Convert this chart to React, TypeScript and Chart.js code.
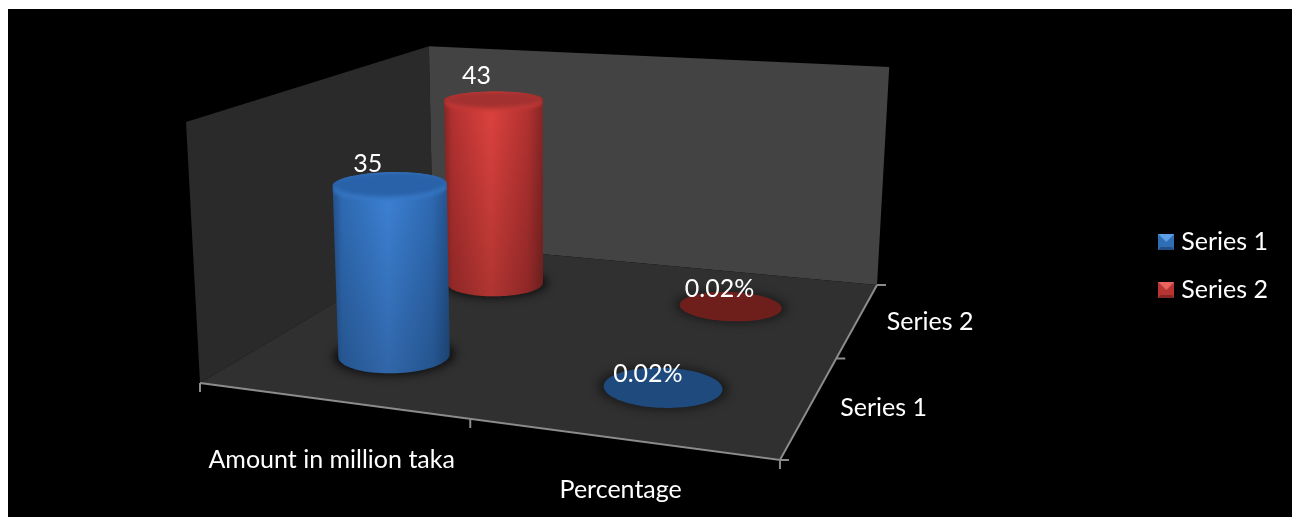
import { useEffect, useRef } from "react";
import { Chart, BarController, BarElement, CategoryScale, LinearScale, Legend } from "chart.js";

const categories = ["Amount in million taka", "Percentage"];
const seriesNames = ["Series 1", "Series 2"];
const series1Values = [35, 0.0002];
const series2Values = [43, 0.0002];
const series1Labels = ["35", "0.02%"];
const series2Labels = ["43", "0.02%"];

const FONT = "Lato, 'Open Sans', sans-serif";
const FONT_SIZE = 25;
const VALUE_MAX = 50.4;
const RADIUS = 0.1;

// Perspective coefficients for the plot box, in canvas pixels (origin at the canvas corner).
const ORIGIN_X = 8;
const ORIGIN_Y = 9;
const H = { a: 480.6, b: 377.7, c: 200, d: 18.4, e: -57.5, f: 383, g: -0.1274, h: 0.3341, k: -0.035, l: -20.5, m: -265.3, lean: 3.5 };

function project(u: number, v: number, t: number) {
  const w = 1 + H.g * u + H.h * v + H.k * t;
  return {
    x: (H.a * u + H.b * v + H.c + H.l * t) / w + H.lean * u * v * t - ORIGIN_X,
    y: (H.d * u + H.e * v + H.f + H.m * t) / w - ORIGIN_Y,
  };
}

type P = { x: number; y: number };

const PALETTE = [
  { edge: "#24528c", mid: "#2f6cb6", hi: "#3e83d8", lid: "#2962a8", lip: "#3a7ccb", flat: "#1f4a7e" },
  { edge: "#862726", mid: "#b53231", hi: "#e0433f", lid: "#a23130", lip: "#cc3c39", flat: "#6e1f1b" },
];

function circle(cu: number, cv: number, t: number, r = RADIUS): P[] {
  const pts: P[] = [];
  for (let i = 0; i < 96; i++) {
    const a = (i / 96) * Math.PI * 2;
    pts.push(project(cu + r * Math.cos(a), cv + r * Math.sin(a), t));
  }
  return pts;
}

function hull(points: P[]): P[] {
  const s = [...points].sort((p, q) => p.x - q.x || p.y - q.y);
  const cross = (o: P, p: P, q: P) => (p.x - o.x) * (q.y - o.y) - (p.y - o.y) * (q.x - o.x);
  const half = (list: P[]) => {
    const out: P[] = [];
    for (const p of list) {
      while (out.length > 1 && cross(out[out.length - 2], out[out.length - 1], p) <= 0) out.pop();
      out.push(p);
    }
    out.pop();
    return out;
  };
  return [...half(s), ...half([...s].reverse())];
}

function trace(ctx: CanvasRenderingContext2D, pts: P[]) {
  ctx.beginPath();
  pts.forEach((p, i) => (i ? ctx.lineTo(p.x, p.y) : ctx.moveTo(p.x, p.y)));
  ctx.closePath();
}

// Bar controller whose elements are painted as cylinders standing on the projected floor.
class CylinderController extends BarController {
  static id = "cylinder";
  draw() {
    const chart = this.chart;
    const ctx = chart.ctx;
    const { x, y, z } = chart.scales as any;
    const di = this.index;
    const pal = PALETTE[di];
    const values = chart.data.datasets[di].data as number[];
    const v = (z.bottom - z.getPixelForValue(di)) / z.height;
    values.forEach((val, i) => {
      const u = (x.getPixelForValue(i) - x.left) / x.width;
      const t = (y.bottom - y.getPixelForValue(val)) / y.height;
      const base = circle(u, v, 0);
      const top = circle(u, v, t);
      const flat = t < 0.005;

      ctx.save();
      ctx.filter = "blur(5px)";
      ctx.fillStyle = flat ? "rgba(0,0,0,0.45)" : "rgba(0,0,0,0.7)";
      trace(ctx, circle(u, v, 0, RADIUS * 1.1));
      ctx.fill();
      ctx.restore();

      if (flat) {
        ctx.fillStyle = pal.flat;
        trace(ctx, base);
        ctx.fill();
        return;
      }

      const outline = hull([...base, ...top]);
      const xs = outline.map((p) => p.x);
      const ys = outline.map((p) => p.y);
      const left = Math.min(...xs);
      const right = Math.max(...xs);
      const side = ctx.createLinearGradient(left, 0, right, 0);
      side.addColorStop(0, pal.edge);
      side.addColorStop(0.08, pal.mid);
      side.addColorStop(0.47, pal.hi);
      side.addColorStop(0.85, pal.mid);
      side.addColorStop(1, pal.edge);
      ctx.fillStyle = side;
      trace(ctx, outline);
      ctx.fill();

      const fade = ctx.createLinearGradient(0, Math.min(...ys), 0, Math.max(...ys));
      fade.addColorStop(0, "rgba(0,0,0,0)");
      fade.addColorStop(1, "rgba(0,0,0,0.22)");
      ctx.fillStyle = fade;
      trace(ctx, outline);
      ctx.fill();

      // Lid: the rounded lip sits just under the darker top face.
      ctx.save();
      trace(ctx, outline);
      ctx.clip();
      ctx.filter = "blur(2px)";
      ctx.fillStyle = pal.lip;
      trace(ctx, circle(u, v, t - 0.012));
      ctx.fill();
      ctx.fillStyle = pal.lid;
      trace(ctx, top);
      ctx.fill();
      ctx.restore();
    });
  }
}

// Back walls, floor, axis lines and their tick labels.
const boxPlugin = {
  id: "box",
  beforeDatasetsDraw(chart: any) {
    const ctx: CanvasRenderingContext2D = chart.ctx;
    const { x, z } = chart.scales;
    const fl = project(0, 0, 0), fr = project(1, 0, 0), br = project(1, 1, 0), bl = project(0, 1, 0);
    const flt = project(0, 0, 1), blt = project(0, 1, 1), brt = project(1, 1, 1);

    ctx.fillStyle = "#2a2a2a";
    trace(ctx, [flt, blt, bl, fl]);
    ctx.fill();
    ctx.fillStyle = "#434343";
    trace(ctx, [blt, brt, br, bl]);
    ctx.fill();
    ctx.fillStyle = "#303030";
    trace(ctx, [fl, fr, br, bl]);
    ctx.fill();

    ctx.strokeStyle = "#8c8c8c";
    ctx.lineWidth = 2;
    ctx.beginPath();
    ctx.moveTo(fl.x, fl.y);
    ctx.lineTo(fr.x, fr.y);
    ctx.lineTo(br.x, br.y);
    for (let i = 0; i <= categories.length; i++) {
      const p = project(i / categories.length, 0, 0);
      ctx.moveTo(p.x, p.y);
      ctx.lineTo(p.x, p.y + 9);
    }
    for (let i = 0; i <= seriesNames.length; i++) {
      const p = project(1, i / seriesNames.length, 0);
      ctx.moveTo(p.x, p.y);
      ctx.lineTo(p.x + 9, p.y);
    }
    ctx.stroke();

    ctx.fillStyle = "#ffffff";
    ctx.font = `${FONT_SIZE}px ${FONT}`;
    ctx.textAlign = "center";
    ctx.textBaseline = "middle";
    const catDrop = [60, 51];
    categories.forEach((name, i) => {
      const u = (x.getPixelForValue(i) - x.left) / x.width;
      const p = project(u, 0, 0);
      ctx.fillText(name, p.x + 1, p.y + catDrop[i]);
    });
    const seriesShift = [73, 72];
    seriesNames.forEach((name, i) => {
      const v = (z.bottom - z.getPixelForValue(i)) / z.height;
      const p = project(1, v, 0);
      ctx.fillText(name, p.x + seriesShift[i], p.y + 3);
    });
  },
  afterDatasetsDraw(chart: any) {
    const ctx: CanvasRenderingContext2D = chart.ctx;
    const { x, y, z } = chart.scales;
    const nudges = [
      [[-22, -20], [-15, -13]],
      [[-17, -23], [-11, -17]],
    ];
    const texts = [series1Labels, series2Labels];
    ctx.fillStyle = "#ffffff";
    ctx.font = `${FONT_SIZE}px ${FONT}`;
    ctx.textAlign = "center";
    ctx.textBaseline = "middle";
    chart.data.datasets.forEach((ds: any, di: number) => {
      const v = (z.bottom - z.getPixelForValue(di)) / z.height;
      ds.data.forEach((val: number, i: number) => {
        const u = (x.getPixelForValue(i) - x.left) / x.width;
        const t = (y.bottom - y.getPixelForValue(val)) / y.height;
        const p = project(u, v, t);
        ctx.fillText(texts[di][i], p.x + nudges[di][i][0], p.y + nudges[di][i][1]);
      });
    });
  },
};

function bevelIcon(light: string, mid: string, dark: string) {
  const c = document.createElement("canvas");
  c.width = 16;
  c.height = 16;
  const g = c.getContext("2d")!;
  g.fillStyle = mid;
  g.fillRect(0, 0, 16, 16);
  g.fillStyle = light;
  g.beginPath();
  g.moveTo(0, 0);
  g.lineTo(16, 0);
  g.lineTo(8, 8);
  g.closePath();
  g.fill();
  g.fillStyle = dark;
  g.beginPath();
  g.moveTo(0, 16);
  g.lineTo(16, 16);
  g.lineTo(14, 13);
  g.lineTo(2, 13);
  g.closePath();
  g.fill();
  return c;
}

export default function App() {
  const ref = useRef<HTMLCanvasElement>(null);
  useEffect(() => {
    Chart.register(CylinderController, BarElement, CategoryScale, LinearScale, Legend);
    const icons = [bevelIcon("#5c9fe6", "#2f6db5", "#234f86"), bevelIcon("#e86461", "#b83432", "#862725")];
    const chart = new Chart(ref.current!, {
      type: "cylinder" as any,
      plugins: [boxPlugin],
      data: {
        labels: categories,
        datasets: [
          { label: seriesNames[0], data: series1Values },
          { label: seriesNames[1], data: series2Values },
        ],
      },
      options: {
        animation: false,
        responsive: false,
        events: [],
        layout: { padding: { top: 6, right: 14 } },
        scales: {
          x: { type: "category", display: false, offset: true },
          y: { type: "linear", display: false, min: 0, max: VALUE_MAX },
          z: { type: "category", axis: "y", display: false, offset: true, reverse: true, labels: seriesNames },
        },
        plugins: {
          legend: {
            position: "right",
            labels: {
              color: "#ffffff",
              font: { family: FONT, size: FONT_SIZE },
              usePointStyle: true,
              pointStyleWidth: 5,
              padding: 23,
              generateLabels: (c: any) =>
                c.data.datasets.map((ds: any, i: number) => ({
                  text: ds.label,
                  fontColor: "#ffffff",
                  pointStyle: icons[i],
                  datasetIndex: i,
                  hidden: false,
                })),
            },
          },
          tooltip: { enabled: false },
        },
      } as any,
    });
    return () => chart.destroy();
  }, []);
  return (
    <canvas
      ref={ref}
      width={1284}
      height={508}
      style={{ display: "block", position: "fixed", left: 8, top: 9, background: "#000000" }}
    />
  );
}
